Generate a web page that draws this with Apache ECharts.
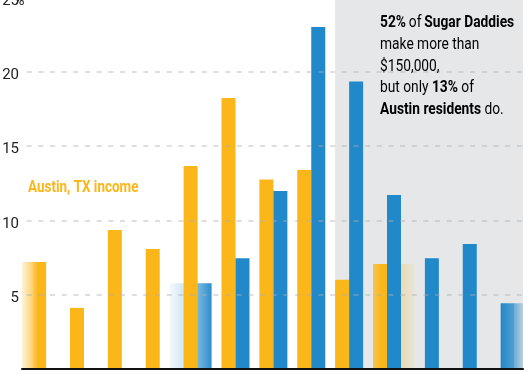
<!DOCTYPE html>
<html>
<head>
<meta charset="utf-8">
<script src="https://cdn.jsdelivr.net/npm/echarts@6/dist/echarts.min.js"></script>
<style>
html,body{margin:0;padding:0;background:#fff;}
#c{width:530px;height:375px;}
</style>
</head>
<body>
<div id="c"></div>
<script>
// ---- data ----
var positions = [0,1,2,3,4,5,6,7,8,9,10,11,12];
var austinIncome = [7.2, 4.1, 9.35, 8.07, 13.67, 18.25, 12.75, 13.4, 6.0, 7.06, null, null, null];
var sugarDaddies = [null, null, null, null, 5.76, 7.44, 11.98, 23.04, 19.35, 11.71, 7.44, 8.4, 4.41];
var yTicks = [0, 5, 10, 15, 20, 25];
var shadeFrom = 7.63; // start of highlighted (>$150k) band, in position units

// ---- styling ----
var ORANGE = '#FBB619';
var BLUE = '#2188CA';
var FONT = 'Roboto,sans-serif';

function rgba(hex, a){
  var n = parseInt(hex.slice(1),16);
  return 'rgba('+((n>>16)&255)+','+((n>>8)&255)+','+(n&255)+','+a+')';
}
function hgrad(hex, a0, a1, s){
  return new echarts.graphic.LinearGradient(0,0,1,0,[
    {offset:0,color:rgba(hex,a0)},{offset:s||1,color:rgba(hex,a1)},{offset:1,color:rgba(hex,a1)}]);
}
var austinStyle = {0: hgrad(ORANGE,0.65,1,0.4), 9: hgrad(ORANGE,0.7,1,0.6)};
var sugarStyle = {4: hgrad(BLUE,0.6,0.95,1), 12: hgrad(BLUE,1,0.75,1)};

function build(arr, styles){
  return arr.map(function(v,i){
    var item = {value:[positions[i], v]};
    if (styles[i]) item.itemStyle = {color: styles[i]};
    return item;
  });
}

// ghost smears: [series, index, fromOffset(px from group centre), toOffset, alphaFrom, alphaTo]
var ghosts = [
  ['a', 0, -25, -14, 0.12, 0.6],
  ['s', 4, -28, 0, 0.05, 0.35],
  ['a', 9, 0, 28, 0.45, 0.05],
  ['s', 12, 14, 24, 0.6, 0.15]
];
var ghostData = ghosts.map(function(g, gi){
  var arr = g[0]==='a' ? austinIncome : sugarDaddies;
  return [positions[g[1]], arr[g[1]], gi];
});

var chart = echarts.init(document.getElementById('c'), null, {renderer:'canvas'});
chart.setOption({
  animation:false,
  backgroundColor:'#fff',
  grid:{left:22, right:7, top:-2.2, bottom:6.3, containLabel:false, outerBoundsMode:'none'},
  xAxis:{
    type:'value', min:-0.636, max:12.59, z:6,
    axisLine:{show:true, onZero:false, lineStyle:{color:'#111', width:2}},
    axisTick:{show:false}, axisLabel:{show:false}, splitLine:{show:false}
  },
  yAxis:{
    type:'value', min:yTicks[0], max:yTicks[yTicks.length-1], interval:5, z:5,
    axisLine:{show:false}, axisTick:{show:false},
    axisLabel:{
      margin:3, color:'#222', fontFamily:FONT, fontSize:15, padding:[7,0,0,0],
      formatter:function(v){ return v===0 ? '' : (v===25 ? v+'{p|%}' : String(v)); },
      rich:{p:{width:0, align:'left', color:'#222', fontFamily:FONT, fontSize:15}}
    },
    splitLine:{show:true, lineStyle:{color:'rgba(175,175,175,0.55)', width:1.5, type:[5,6.67], dashOffset:7}}
  },
  series:[
    {
      type:'custom', z:2, clip:true, silent:true,
      data:ghostData,
      renderItem:function(params, api){
        var g = ghosts[api.value(2)];
        var base = api.coord([api.value(0), 0]);
        var top = api.coord([api.value(0), api.value(1)]);
        var col = g[0]==='a' ? ORANGE : BLUE;
        var x0 = base[0]+g[2], x1 = base[0]+g[3];
        return {
          type:'rect',
          shape:{x:x0, y:top[1], width:x1-x0, height:base[1]-top[1]},
          style:{fill:new echarts.graphic.LinearGradient(0,0,1,0,[
            {offset:0,color:rgba(col,g[4])},{offset:1,color:rgba(col,g[5])}])}
        };
      }
    },
    {
      name:'Austin, TX income', type:'bar', barWidth:14, barGap:'0%', z:2,
      itemStyle:{color:ORANGE},
      data:build(austinIncome, austinStyle),
      markArea:{
        silent:true, z:1,
        itemStyle:{color:'#E6E7E8'},
        data:[[{xAxis:shadeFrom},{xAxis:12.59}]]
      }
    },
    {
      name:'Sugar Daddies', type:'bar', barWidth:14, barGap:'0%', z:2,
      itemStyle:{color:BLUE},
      data:build(sugarDaddies, sugarStyle)
    }
  ],
  graphic:[
    {
      type:'text', x:28, y:188, scaleX:0.84, z:10,
      style:{text:'Austin, TX income', fill:ORANGE, font:'bold 16px '+FONT, verticalAlign:'middle'}
    },
    {
      type:'text', x:380, y:12.5, scaleX:0.86, z:10,
      style:{
        text:'{b|52%} {n|of} {bb|Sugar Daddies}\n{n|make more than}\n{n|$150,000,}\n{n|but only }{b|13%}{n| of}\n{bo|Austin residents}{n| do.}',
        rich:{
          n:{fontFamily:FONT, fontSize:16, color:'#222', lineHeight:21.7},
          b:{fontFamily:FONT, fontSize:16, fontWeight:'bold', color:'#222', lineHeight:21.7},
          bb:{fontFamily:FONT, fontSize:16, fontWeight:'bold', color:BLUE, lineHeight:21.7},
          bo:{fontFamily:FONT, fontSize:16, fontWeight:'bold', color:ORANGE, lineHeight:21.7}
        }
      }
    }
  ]
});
</script>
</body>
</html>
